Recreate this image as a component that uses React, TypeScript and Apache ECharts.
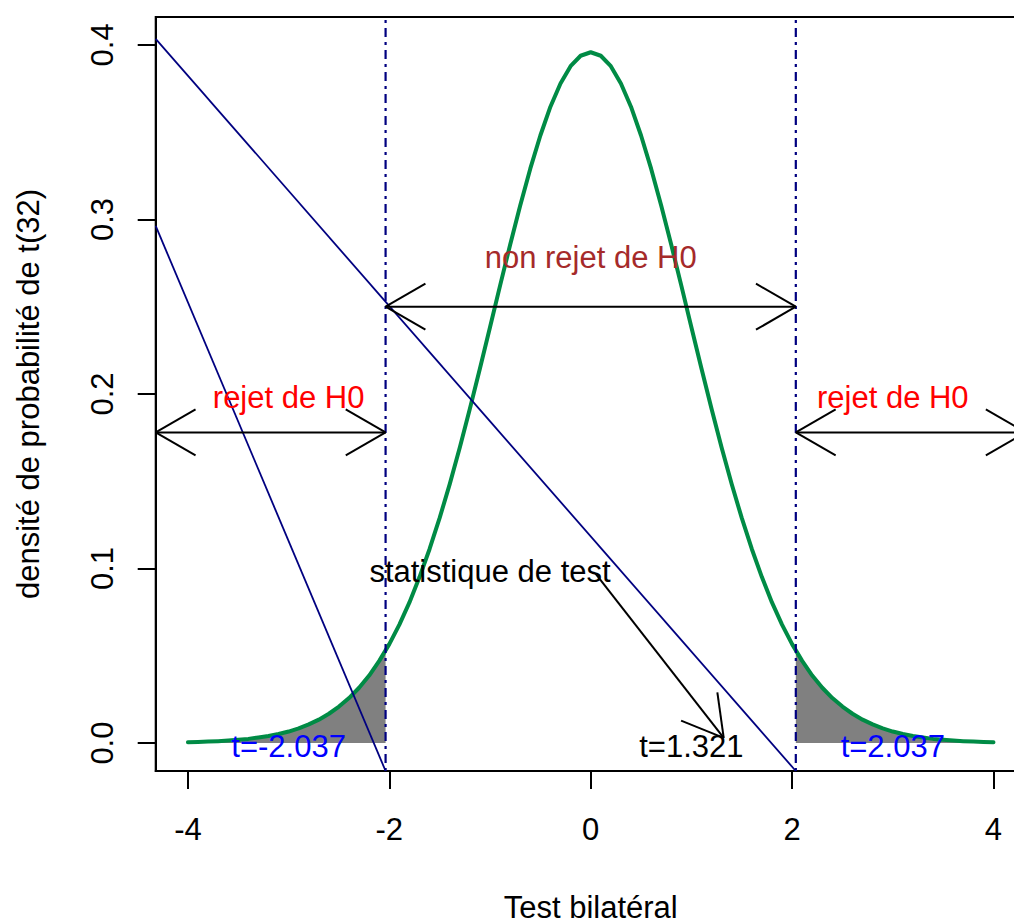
import React, { useEffect, useRef } from "react";
import * as echarts from "echarts";

// ---- data ----
const tValues = [
  -4, -3.9, -3.8, -3.7, -3.6, -3.5, -3.4, -3.3, -3.2, -3.1,
  -3, -2.9, -2.8, -2.7, -2.6, -2.5, -2.4, -2.3, -2.2, -2.1,
  -2, -1.9, -1.8, -1.7, -1.6, -1.5, -1.4, -1.3, -1.2, -1.1,
  -1, -0.9, -0.8, -0.7, -0.6, -0.5, -0.4, -0.3, -0.2, -0.1,
  0, 0.1, 0.2, 0.3, 0.4, 0.5, 0.6, 0.7, 0.8, 0.9,
  1, 1.1, 1.2, 1.3, 1.4, 1.5, 1.6, 1.7, 1.8, 1.9,
  2, 2.1, 2.2, 2.3, 2.4, 2.5, 2.6, 2.7, 2.8, 2.9,
  3, 3.1, 3.2, 3.3, 3.4, 3.5, 3.6, 3.7, 3.8, 3.9, 4,
];
const densityValues = [
  0.0005, 0.00065, 0.00085, 0.0011, 0.00145, 0.0019, 0.0024, 0.0032, 0.0041, 0.0052,
  0.0066, 0.0084, 0.0107, 0.0134, 0.0168, 0.0209, 0.0258, 0.0317, 0.0387, 0.0471,
  0.0567, 0.0679, 0.0806, 0.0951, 0.1112, 0.129, 0.1484, 0.1693, 0.1915, 0.2146,
  0.2382, 0.2621, 0.2855, 0.308, 0.3291, 0.3481, 0.3646, 0.3779, 0.3878, 0.3938,
  0.3958, 0.3938, 0.3878, 0.3779, 0.3646, 0.3481, 0.3291, 0.308, 0.2855, 0.2621,
  0.2382, 0.2146, 0.1915, 0.1693, 0.1484, 0.129, 0.1112, 0.0951, 0.0806, 0.0679,
  0.0567, 0.0471, 0.0387, 0.0317, 0.0258, 0.0209, 0.0168, 0.0134, 0.0107, 0.0084,
  0.0066, 0.0052, 0.0041, 0.0032, 0.0024, 0.0019, 0.00145, 0.0011, 0.00085, 0.00065, 0.0005,
];
const criticalValue = 2.037;
const criticalDensity = 0.053;

const xTicks = [-4, -2, 0, 2, 4];
const xTickLabels = ["-4", "-2", "0", "2", "4"];
const yTicks = [0, 0.1, 0.2, 0.3, 0.4];
const yTickLabels = ["0.0", "0.1", "0.2", "0.3", "0.4"];

const X_MIN = -4.32;
const X_MAX = 4.32;
const Y_MIN = -0.016;
const Y_MAX = 0.416;

// straight navy lines
const lineAX = [-4.32, 2.037];
const lineAY = [0.4035, -0.016];
const lineBX = [-4.32, -2.037];
const lineBY = [0.2963, -0.016];

// arrows: start, end, heads (3 = both ends, 2 = end only)
const arrowX1 = [-2.037, -4.32, 2.037, 0.05];
const arrowY1 = [0.25, 0.178, 0.178, 0.097];
const arrowX2 = [2.037, -2.037, 4.32, 1.321];
const arrowY2 = [0.25, 0.178, 0.178, 0.003];
const arrowCodes = [3, 3, 3, 2];

// annotations
const noteTexts = ["non rejet de H0", "rejet de H0", "rejet de H0", "statistique de test", "t=-2.037", "t=2.037", "t=1.321"];
const noteX = [0, -3, 3, -1, -3, 3, 1];
const noteY = [0.28, 0.2, 0.2, 0.1, 0, 0, 0];
const noteColors = ["#A52A2A", "#FF0000", "#FF0000", "#000000", "#0000FF", "#0000FF", "#000000"];

const FONT = "'Liberation Sans', Arial, Helvetica, sans-serif";
const FS = 31;

function buildOption() {
  const curve = tValues.map((t, i) => [t, densityValues[i]]);
  const leftTail = curve.filter((p) => p[0] <= -criticalValue);
  leftTail.push([-criticalValue, criticalDensity]);
  const rightTail = [[criticalValue, criticalDensity] as number[]].concat(curve.filter((p) => p[0] >= criticalValue));

  const findLabel = (v: number, ticks: number[], labels: string[]) => {
    const i = ticks.findIndex((t) => Math.abs(t - v) < 1e-9);
    return i >= 0 ? labels[i] : "";
  };

  const arrowData = arrowX1.map((x, i) => [x, arrowY1[i], arrowX2[i], arrowY2[i], arrowCodes[i]]);
  const HEAD = 46;
  const ANG = Math.PI / 6;

  const renderArrow = (params: any, api: any) => {
    const p1 = api.coord([api.value(0), api.value(1)]);
    const p2 = api.coord([api.value(2), api.value(3)]);
    const code = api.value(4);
    const st = { stroke: "#000", lineWidth: 2, fill: null };
    const children: any[] = [
      { type: "line", shape: { x1: p1[0], y1: p1[1], x2: p2[0], y2: p2[1] }, style: st },
    ];
    const head = (tip: number[], from: number[]) => {
      const a = Math.atan2(from[1] - tip[1], from[0] - tip[0]);
      [a + ANG, a - ANG].forEach((b) => {
        children.push({
          type: "line",
          shape: { x1: tip[0], y1: tip[1], x2: tip[0] + HEAD * Math.cos(b), y2: tip[1] + HEAD * Math.sin(b) },
          style: st,
        });
      });
    };
    if (code >= 2) head(p2, p1);
    if (code === 1 || code === 3) head(p1, p2);
    return { type: "group", children };
  };

  return {
    animation: false,
    backgroundColor: "#ffffff",
    grid: {
      left: 155.7,
      top: 17,
      width: 870,
      height: 754,
      show: true,
      borderColor: "#000",
      borderWidth: 2,
      backgroundColor: "transparent",
      containLabel: false,
      outerBoundsMode: "none",
    },
    xAxis: {
      type: "value",
      min: X_MIN,
      max: X_MAX,
      name: "Test bilatéral",
      nameLocation: "middle",
      nameGap: 121,
      nameMoveOverlap: false,
      nameTextStyle: { fontSize: FS, fontFamily: FONT, color: "#000" },
      axisLine: { show: true, onZero: false, lineStyle: { color: "#000", width: 2 } },
      axisTick: { show: true, length: 18, customValues: xTicks, lineStyle: { color: "#000", width: 2 } },
      axisLabel: {
        customValues: xTicks,
        margin: 43,
        fontSize: FS,
        fontFamily: FONT,
        color: "#000",
        formatter: (v: number) => findLabel(v, xTicks, xTickLabels),
      },
      splitLine: { show: false },
    },
    yAxis: {
      type: "value",
      min: Y_MIN,
      max: Y_MAX,
      name: "densité de probabilité de t(32)",
      nameLocation: "middle",
      nameGap: 112,
      nameMoveOverlap: false,
      nameTextStyle: { fontSize: FS, fontFamily: FONT, color: "#000" },
      axisLine: { show: true, onZero: false, lineStyle: { color: "#000", width: 2 } },
      axisTick: { show: true, length: 18, customValues: yTicks, lineStyle: { color: "#000", width: 2 } },
      axisLabel: {
        customValues: yTicks,
        rotate: 90,
        margin: 38,
        fontSize: FS,
        fontFamily: FONT,
        color: "#000",
        formatter: (v: number) => findLabel(v, yTicks, yTickLabels),
      },
      splitLine: { show: false },
    },
    series: [
      {
        type: "line",
        data: leftTail,
        showSymbol: false,
        symbol: "none",
        lineStyle: { width: 0 },
        areaStyle: { color: "#808080", opacity: 1 },
        z: 1,
        silent: true,
      },
      {
        type: "line",
        data: rightTail,
        showSymbol: false,
        symbol: "none",
        lineStyle: { width: 0 },
        areaStyle: { color: "#808080", opacity: 1 },
        z: 1,
        silent: true,
      },
      {
        type: "line",
        data: curve,
        showSymbol: false,
        symbol: "none",
        smooth: false,
        lineStyle: { color: "#008B45", width: 4, join: "round", cap: "round" },
        z: 3,
        silent: true,
      },
      {
        type: "line",
        data: lineAX.map((x, i) => [x, lineAY[i]]),
        showSymbol: false,
        symbol: "none",
        lineStyle: { color: "#000080", width: 1.8 },
        z: 4,
        silent: true,
      },
      {
        type: "line",
        data: lineBX.map((x, i) => [x, lineBY[i]]),
        showSymbol: false,
        symbol: "none",
        lineStyle: { color: "#000080", width: 1.8 },
        z: 4,
        silent: true,
      },
      {
        type: "line",
        data: [[-criticalValue, Y_MIN], [-criticalValue, Y_MAX]],
        showSymbol: false,
        symbol: "none",
        lineStyle: { color: "#000080", width: 2.2, type: [3, 5, 9, 5], cap: "butt" },
        z: 4,
        silent: true,
      },
      {
        type: "line",
        data: [[criticalValue, Y_MIN], [criticalValue, Y_MAX]],
        showSymbol: false,
        symbol: "none",
        lineStyle: { color: "#000080", width: 2.2, type: [3, 5, 9, 5], cap: "butt" },
        z: 4,
        silent: true,
      },
      {
        type: "custom",
        coordinateSystem: "cartesian2d",
        data: arrowData,
        encode: { x: [0, 2], y: [1, 3] },
        renderItem: renderArrow,
        z: 5,
        silent: true,
      },
      {
        type: "scatter",
        symbolSize: 1,
        itemStyle: { color: "rgba(0,0,0,0)", opacity: 1 },
        z: 6,
        silent: true,
        data: noteTexts.map((txt, i) => ({
          value: [noteX[i], noteY[i]],
          label: {
            show: true,
            position: [0.5, 0.5],
            align: "center",
            verticalAlign: "middle",
            offset: [0, 3],
            formatter: txt,
            color: noteColors[i],
            opacity: 1,
            textBorderWidth: 0,
            fontSize: FS,
            fontFamily: FONT,
          },
        })),
      },
    ],
  };
}

export default function App() {
  const ref = useRef<HTMLDivElement>(null);
  useEffect(() => {
    if (!ref.current) return;
    const chart = echarts.init(ref.current, null, { renderer: "svg" });
    chart.setOption(buildOption() as any);
    return () => chart.dispose();
  }, []);
  return (
    <div style={{ position: "absolute", left: 0, top: 0, width: 1014, height: 920, overflow: "hidden", background: "#fff" }}>
      <div ref={ref} style={{ width: 1040, height: 920 }} />
    </div>
  );
}
